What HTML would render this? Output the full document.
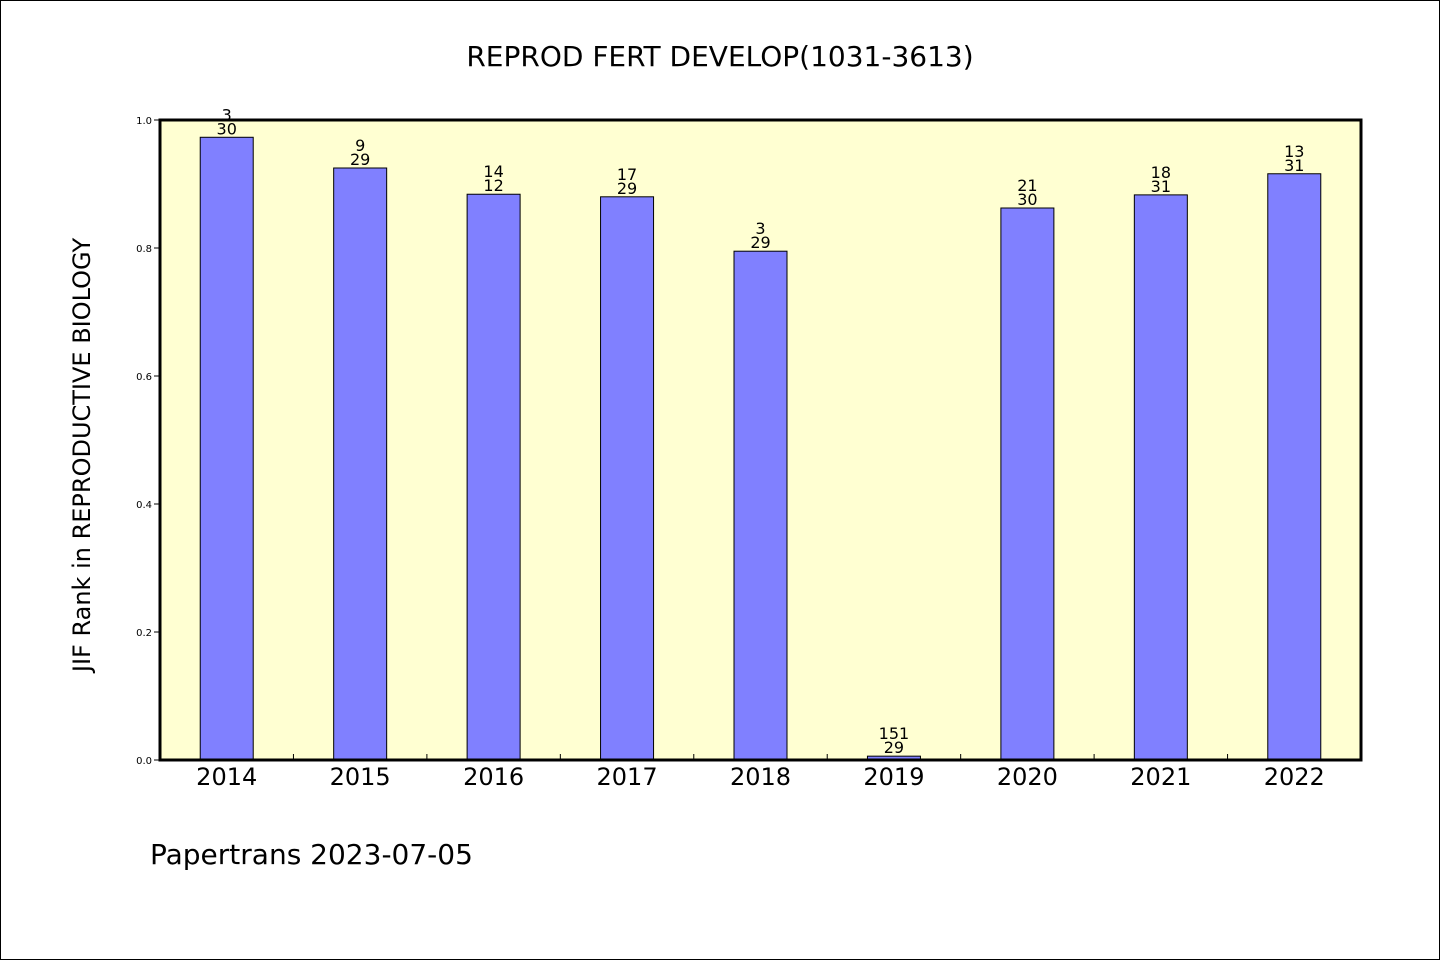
<!DOCTYPE html>
<html><head><meta charset="utf-8"><style>
body{margin:0;background:#fff}
svg{display:block;font-family:"DejaVu Sans","Liberation Sans",sans-serif}
</style></head><body>
<svg id="c" width="1440" height="960" viewBox="0 0 1440 960" xmlns="http://www.w3.org/2000/svg">
<rect x="0.5" y="0.5" width="1439" height="959" fill="#fff" stroke="#000"/>
<text x="720" y="66" text-anchor="middle" font-size="28">REPROD FERT DEVELOP(1031-3613)</text>
<rect x="160" y="120" width="1201" height="640" fill="#ffffd2"/>
<g id="bars"></g>
<rect x="160" y="120" width="1201" height="640" fill="none" stroke="#000" stroke-width="3"/>
<text transform="translate(90,455) rotate(-90)" text-anchor="middle" font-size="24">JIF Rank in REPRODUCTIVE BIOLOGY</text>
<text x="150" y="864" font-size="28">Papertrans 2023-07-05</text>
</svg>
<script>
const categories=["2014","2015","2016","2017","2018","2019","2020","2021","2022"];
const values=[0.973,0.925,0.884,0.880,0.795,0.006,0.8625,0.883,0.916];
const ranks=["3","9","14","17","3","151","21","18","13"];
const totals=["30","29","12","29","29","29","30","31","31"];
const yTicks=["0.0","0.2","0.4","0.6","0.8","1.0"];
const NS="http://www.w3.org/2000/svg";
const L=160,R=1361,T=120,B=760;
const step=(R-L)/categories.length;
const x=i=>L+step*(i+0.5);
const y=v=>B-v*(B-T);
const g=document.getElementById('bars');
function mk(t,a,txt){const e=document.createElementNS(NS,t);for(const k in a)e.setAttribute(k,a[k]);if(txt!==undefined)e.textContent=txt;g.appendChild(e);return e;}
yTicks.forEach(t=>{const v=parseFloat(t);
const l=mk('line',{x1:L-6,x2:L,y1:y(v),y2:y(v),stroke:'#000'});


const tx=mk('text',{x:L-8,y:y(v)+4,'text-anchor':'end','font-size':10},t);


});
for(let i=1;i<categories.length;i++){
const l=mk('line',{x1:L+step*i,x2:L+step*i,y1:B,y2:B-6,stroke:'#000'});


}
categories.forEach((c,i)=>{
const cx=x(i),w=53,top=y(values[i]);
const r=mk('rect',{x:cx-w/2,y:top,width:w,height:B-top,fill:'#8080ff',stroke:'#000','stroke-width':1});


const t1=mk('text',{x:cx,y:top-17,'text-anchor':'middle','font-size':16},ranks[i]);


const t2=mk('text',{x:cx,y:top-3,'text-anchor':'middle','font-size':16},totals[i]);


const xl=mk('text',{x:cx,y:785,'text-anchor':'middle','font-size':24},c);


});
</script>
</body></html>
